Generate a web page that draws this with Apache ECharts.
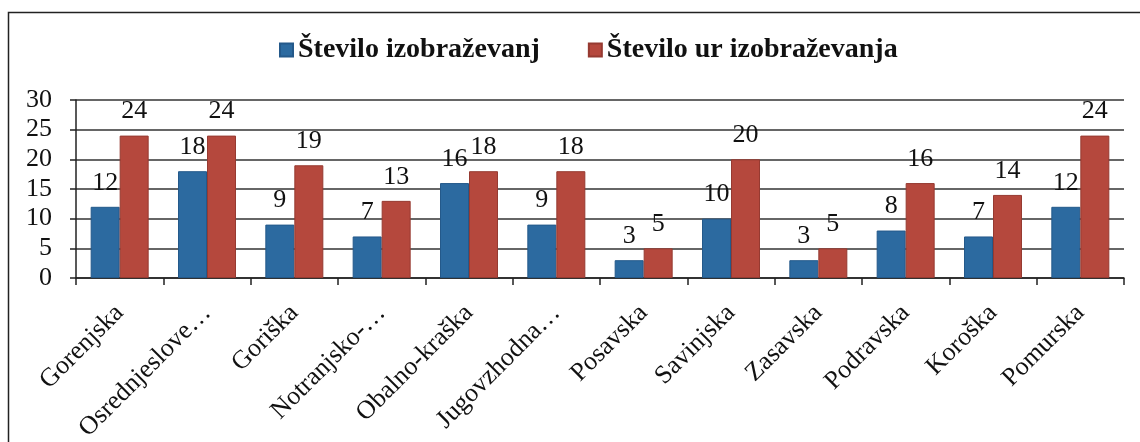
<!DOCTYPE html>
<html>
<head>
<meta charset="utf-8">
<script src="https://cdn.jsdelivr.net/npm/echarts@6/dist/echarts.min.js"></script>
<style>
  html, body { margin: 0; padding: 0; background: #fff; }
  #chart { width: 1140px; height: 442px; }
</style>
</head>
<body>
<div id="chart"></div>
<script>
// regije (dolga imena so na sliki skrajšana)
const regije = ['Gorenjska', 'Osrednjeslove…', 'Goriška', 'Notranjsko-…', 'Obalno-kraška', 'Jugovzhodna…',
  'Posavska', 'Savinjska', 'Zasavska', 'Podravska', 'Koroška', 'Pomurska']
const steviloIzobrazevanj = [12, 18, 9, 7, 16, 9, 3, 10, 3, 8, 7, 12]
const steviloUr = [24, 24, 19, 13, 18, 18, 5, 20, 5, 16, 14, 24]
const yTicks = [0, 5, 10, 15, 20, 25, 30]

const serif = '"Liberation Serif", "Times New Roman", serif'
const chart = echarts.init(document.getElementById('chart'))

const labelStyle = {
  show: true,
  position: 'top',
  distance: 11,
  color: '#111',
  fontFamily: serif,
  fontSize: 26
}

chart.setOption({
  backgroundColor: '#fff',
  animation: false,
  graphic: [{
    type: 'rect',
    shape: { x: 8.5, y: 12.5, width: 1200, height: 500 },
    style: { fill: 'none', stroke: '#222', lineWidth: 1.5 }
  }],
  legend: {
    top: 31,
    left: 274,
    itemWidth: 13,
    itemHeight: 13,
    itemGap: 48,
    icon: 'rect',
    textStyle: { fontFamily: serif, fontSize: 28, fontWeight: 'bold', color: '#111' }
  },
  grid: { left: 76, right: 16, top: 100, bottom: 164, outerBoundsMode: 'none', containLabel: false },
  xAxis: {
    type: 'category',
    data: regije,
    axisLine: { lineStyle: { color: '#222', width: 1.5 } },
    axisTick: { show: true, length: 7, lineStyle: { color: '#222', width: 1.5 } },
    axisLabel: {
      rotate: 45,
      interval: 0,
      margin: 31,
      color: '#111',
      fontFamily: serif,
      fontSize: 26
    }
  },
  yAxis: {
    type: 'value',
    min: yTicks[0],
    max: yTicks[yTicks.length - 1],
    interval: 5,
    axisLine: { show: true, lineStyle: { color: '#222', width: 1.5 } },
    axisTick: { show: true, length: 6, lineStyle: { color: '#222', width: 1.5 } },
    axisLabel: { color: '#111', fontFamily: serif, fontSize: 26, margin: 24 },
    splitLine: { lineStyle: { color: '#333', width: 1.5 } }
  },
  series: [{
    name: 'Število izobraževanj',
    type: 'bar',
    data: steviloIzobrazevanj,
    barWidth: 29,
    barGap: '0%',
    itemStyle: { color: '#2c6aa0', borderColor: '#24598a', borderWidth: 1 },
    label: labelStyle
  }, {
    name: 'Število ur izobraževanja',
    type: 'bar',
    data: steviloUr,
    barWidth: 29,
    barGap: '0%',
    itemStyle: { color: '#b5483d', borderColor: '#963a31', borderWidth: 1 },
    label: labelStyle
  }]
})
</script>
</body>
</html>
